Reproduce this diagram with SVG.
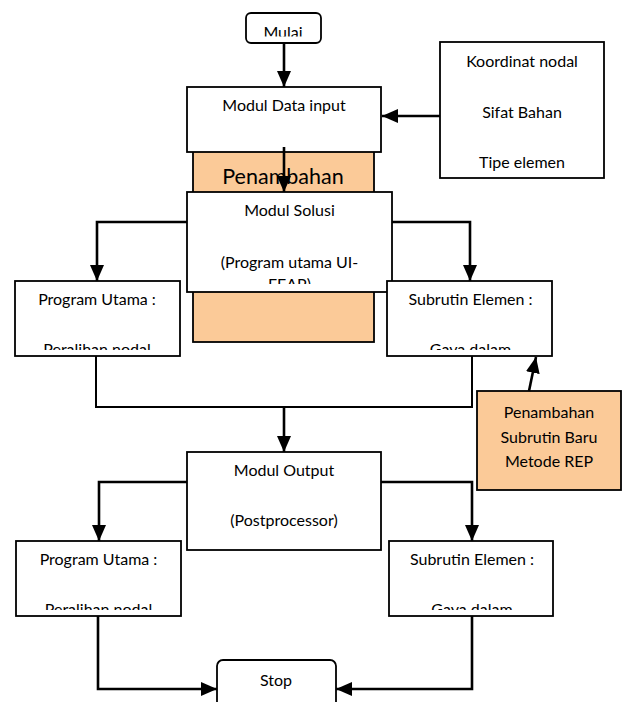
<svg xmlns="http://www.w3.org/2000/svg" width="627" height="702" viewBox="0 0 627 702">
<style>
.box{fill:#fff;stroke:#000;stroke-width:1.8}
.org{fill:#FBCA98;stroke:#000;stroke-width:1.8}
.t{font-family:Lato,"Liberation Sans",sans-serif;font-size:16px;fill:#000;text-anchor:middle}
.big{font-size:21.5px}
.arr{fill:none;stroke:#000;stroke-width:2.6;marker-end:url(#ah)}
.ln{fill:none;stroke:#000;stroke-width:2}
</style>
<defs>
<marker id="ah" markerUnits="userSpaceOnUse" markerWidth="16" markerHeight="14" refX="16" refY="7" orient="auto" viewBox="0 0 16 14">
<path d="M0,0 L16,7 L0,14 z" fill="#000"/>
</marker>
<clipPath id="cMulai"><rect x="246" y="13" width="75" height="23.5"/></clipPath>
<clipPath id="cSol"><rect x="187" y="192" width="205" height="92"/></clipPath>
<clipPath id="cPU1"><rect x="15" y="281" width="165" height="69"/></clipPath>
<clipPath id="cSE1"><rect x="387" y="281" width="165" height="69"/></clipPath>
<clipPath id="cPU2"><rect x="16" y="541" width="165" height="69"/></clipPath>
<clipPath id="cSE2"><rect x="389" y="541" width="164" height="69"/></clipPath>
</defs>

<g id="mulai">
<rect class="box" x="246" y="13" width="75" height="30" rx="5"/>
<text class="t" x="283" y="38" clip-path="url(#cMulai)">Mulai</text>
</g>

<g id="penambahan-bg">
<rect class="org" x="193" y="146" width="181" height="196"/>
<text class="t big" x="283" y="184">Penambahan</text>
</g>

<g id="data-input">
<rect class="box" x="187" y="87" width="194" height="65"/>
<text class="t" x="284" y="111">Modul Data input</text>
</g>

<g id="koordinat">
<rect class="box" x="440" y="42" width="164" height="136"/>
<text class="t" x="522" y="67">Koordinat nodal</text>
<text class="t" x="522" y="118">Sifat Bahan</text>
<text class="t" x="522" y="168">Tipe elemen</text>
</g>

<g id="modul-solusi">
<rect class="box" x="187" y="192" width="205" height="100"/>
<g clip-path="url(#cSol)">
<text class="t" x="289.5" y="216">Modul Solusi</text>
<text class="t" x="289.5" y="268">(Program utama UI-</text>
<text class="t" x="289.5" y="290">FEAP)</text>
</g>
</g>

<g id="program-utama-1">
<rect class="box" x="15" y="281" width="165" height="75"/>
<g clip-path="url(#cPU1)">
<text class="t" x="97" y="305">Program Utama :</text>
<text class="t" x="97" y="355">Peralihan nodal</text>
</g>
</g>

<g id="subrutin-elemen-1">
<rect class="box" x="387" y="281" width="165" height="75"/>
<g clip-path="url(#cSE1)">
<text class="t" x="470.5" y="305">Subrutin Elemen :</text>
<text class="t" x="470.5" y="355">Gaya dalam</text>
</g>
</g>

<g id="penambahan-subrutin">
<rect class="org" x="477" y="391" width="144" height="99"/>
<text class="t" x="549" y="418">Penambahan</text>
<text class="t" x="549" y="443">Subrutin Baru</text>
<text class="t" x="549" y="467">Metode REP</text>
</g>

<g id="modul-output">
<rect class="box" x="187" y="452" width="194" height="98"/>
<text class="t" x="284" y="476">Modul Output</text>
<text class="t" x="284" y="526">(Postprocessor)</text>
</g>

<g id="program-utama-2">
<rect class="box" x="16" y="541" width="165" height="75"/>
<g clip-path="url(#cPU2)">
<text class="t" x="98.5" y="565">Program Utama :</text>
<text class="t" x="98.5" y="615">Peralihan nodal</text>
</g>
</g>

<g id="subrutin-elemen-2">
<rect class="box" x="389" y="541" width="164" height="75"/>
<g clip-path="url(#cSE2)">
<text class="t" x="472" y="565">Subrutin Elemen :</text>
<text class="t" x="472" y="615">Gaya dalam</text>
</g>
</g>

<g id="stop">
<rect class="box" x="217" y="660" width="119" height="60" rx="6"/>
<text class="t" x="276" y="686">Stop</text>
</g>

<g id="connectors">
<path class="arr" d="M284,43 V87"/>
<path class="arr" d="M440,116 H382"/>
<path class="arr" d="M284,147 V192"/>
<path class="arr" d="M187,222 H97 V281"/>
<path class="arr" d="M392,222 H470 V281"/>
<path class="ln" d="M96,356 V407 H472 V356"/>
<path class="arr" d="M284,407 V452"/>
<path class="arr" d="M529,391 L536,357"/>
<path class="arr" d="M187,482 H99 V541"/>
<path class="arr" d="M381,482 H472 V541"/>
<path class="arr" d="M98,616 V689 H217"/>
<path class="arr" d="M472,616 V689 H336"/>
</g>
</svg>
